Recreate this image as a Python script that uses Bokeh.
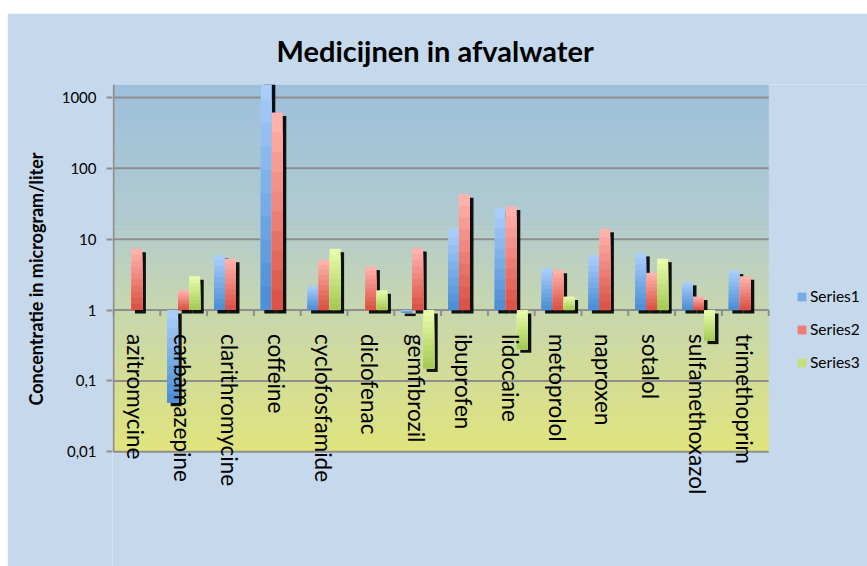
import math
import numpy as np
from bokeh.plotting import figure
from bokeh.core.properties import value
from bokeh.models import (ColumnDataSource, Range1d, FixedTicker, CustomJSTickFormatter,
                          Legend, LegendItem, BoxAnnotation, LabelSet, Title)
from bokeh.embed import file_html
from bokeh.resources import INLINE

# ---------------- data ----------------
categories = ["azitromycine", "carbamazepine", "clarithromycine", "coffeine", "cyclofosfamide",
              "diclofenac", "gemfibrozil", "ibuprofen", "lidocaine", "metoprolol", "naproxen",
              "sotalol", "sulfamethoxazol", "trimethoprim"]
series1 = [None, 0.049, 6.0, 2000, 2.2, None, 0.92, 14, 27.5, 3.9, 6.0, 6.4, 2.5, 3.6]
series2 = [7.3, 1.9, 5.3, 615, 5.1, 4.1, 7.5, 43, 29, 3.7, 14, 3.35, 1.55, 3.0]
series3 = [None, 3.0, None, None, 7.3, 1.9, 0.15, None, 0.28, 1.55, None, 5.3, 0.37, None]
series_names = ["Series1", "Series2", "Series3"]
y_ticks = [0.01, 0.1, 1, 10, 100, 1000]
y_tick_labels = ["0,01", "0,1", "1", "10", "100", "1000"]

# ---------------- style / layout ----------------
FONT = "Lato"
BG = "#c6d9ec"
GRID = "#8e8e8e"
series_colors = [("#a9cdf9", "#4e8fd5"), ("#ffb1ab", "#db5447"), ("#e7fbab", "#a8cb57")]
Y_MAX = 1525
DEC_PX = 71.0          # pixels per decade
CAT_PX = 46.8          # pixels per category
FIG_W, FIG_H = 860, 553
BORDER_L, BORDER_T = 105, 70
FRAME_W = FIG_W - BORDER_L
FRAME_H = FIG_H - BORDER_T
ONE_PX = 309 - 83      # pixel distance of y=1 below frame top
BAR_W = 0.235
SH_DX = 3.5 / CAT_PX
SH_DEC = 3.5 / DEC_PX
N_LAYERS = 10


def hex2rgb(h):
    h = h.lstrip("#")
    return tuple(int(h[i:i + 2], 16) for i in (0, 2, 4))


def lerp(c1, c2, t):
    a, b = hex2rgb(c1), hex2rgb(c2)
    return "#%02x%02x%02x" % tuple(int(round(a[i] + (b[i] - a[i]) * t)) for i in range(3))


n = len(categories)
x_start = -1.0 / CAT_PX
y_low = 10 ** (-(FRAME_H - ONE_PX) / DEC_PX)

p = figure(x_range=Range1d(x_start, x_start + FRAME_W / CAT_PX),
           y_axis_type="log", y_range=Range1d(y_low, Y_MAX),
           width=FIG_W, height=FIG_H, output_backend="svg", toolbar_location=None,
           x_axis_location=None, min_border_left=BORDER_L, min_border_right=0,
           min_border_top=BORDER_T, min_border_bottom=0, margin=(13, 0, 0, 7))
p.border_fill_color = BG
p.background_fill_color = BG
p.outline_line_color = None
p.xgrid.grid_line_color = None
p.ygrid.grid_line_color = None

# plot-area gradient background (blue top -> yellow bottom)
stops = [(0.0, "#9dbfdb"), (0.35, "#afcad0"), (0.6, "#c7d6b0"), (1.0, "#e1e47a")]
lo_l, hi_l = math.log10(y_ticks[0]), math.log10(Y_MAX)
NB = 60
for i in range(NB):
    t = (i + 0.5) / NB
    for j in range(len(stops) - 1):
        if stops[j][0] <= t <= stops[j + 1][0]:
            tt = (t - stops[j][0]) / (stops[j + 1][0] - stops[j][0])
            col = lerp(stops[j][1], stops[j + 1][1], tt)
            break
    top = 10 ** (hi_l - (hi_l - lo_l) * i / NB)
    bot = 10 ** (hi_l - (hi_l - lo_l) * (i + 1) / NB)
    p.add_layout(BoxAnnotation(left=0, right=n, bottom=bot, top=top, fill_color=col,
                               fill_alpha=1, line_color=col, line_width=1, level="image"))

# title
p.title.text = "Medicijnen in afvalwater"
p.title.align = "left"
p.title.offset = 164
p.title.text_font = FONT
p.title.text_font_size = "29px"
p.title.text_font_style = "bold"
p.title.text_color = "black"
p.title.standoff = 34
p.title.text_line_height = 0.9

# y axis
p.yaxis.ticker = FixedTicker(ticks=y_ticks)
p.yaxis.formatter = CustomJSTickFormatter(args=dict(tv=y_ticks, lb=y_tick_labels), code="""
for (let i = 0; i < tv.length; i++) {
  if (Math.abs(Math.log10(tick) - Math.log10(tv[i])) < 1e-6) return lb[i];
}
return "";
""")
p.yaxis.major_label_text_font = FONT
p.yaxis.major_label_text_font_size = "15px"
p.yaxis.major_label_text_color = "black"
p.yaxis.major_label_standoff = 10
p.yaxis.major_tick_out = 6
p.yaxis.major_tick_in = 0
p.yaxis.minor_tick_line_color = None
p.yaxis.axis_line_color = None
p.yaxis.major_tick_line_color = GRID
p.yaxis.major_tick_line_width = 2

p.add_layout(Title(text="Concentratie in microgram/liter", align="left", offset=161,
                   text_font=FONT, text_font_size="18px", text_font_style="bold",
                   text_color="black", standoff=24), "left")

# gridlines (only across the category area) and the left axis line
grid_src = ColumnDataSource(dict(y=y_ticks, x0=[0] * len(y_ticks), x1=[n] * len(y_ticks)))
p.segment(x0="x0", x1="x1", y0="y", y1="y", source=grid_src, line_color=GRID, line_width=2)
p.segment(x0=[0], x1=[0], y0=[y_ticks[0]], y1=[Y_MAX], line_color=GRID, line_width=2)

# category boundary ticks below the 1-line
bounds = list(range(n + 1))
tick_src = ColumnDataSource(dict(x=bounds, y0=[1] * len(bounds),
                                 y1=[10 ** (-6 / DEC_PX)] * len(bounds)))
p.segment(x0="x", x1="x", y0="y0", y1="y1", source=tick_src, line_color=GRID, line_width=2)

# bars (gradient built from stacked layers) with drop shadows
centers = np.arange(n) + 0.5
legend_items = []
for si, vals in enumerate([series1, series2, series3]):
    lv = np.log10(np.array(vals, dtype=float))
    lo = np.minimum(0, lv)
    hi = np.maximum(0, lv)
    xs = centers + (si - 1) * BAR_W
    sh = ColumnDataSource(dict(x=xs + SH_DX, top=10 ** (hi - SH_DEC), bottom=10 ** (lo - SH_DEC)))
    p.vbar(x="x", top="top", bottom="bottom", width=BAR_W, source=sh,
           fill_color="black", fill_alpha=0.92, line_color=None)
    c_top, c_bot = series_colors[si]
    leg_r = None
    for k in range(N_LAYERS):
        f = 1 - k / N_LAYERS
        t = k / (N_LAYERS - 1)
        src = ColumnDataSource(dict(x=xs, top=10 ** (lo + (hi - lo) * f), bottom=10 ** lo))
        r = p.vbar(x="x", top="top", bottom="bottom", width=BAR_W, source=src,
                   fill_color=lerp(c_top, c_bot, t), line_color=None)
        if k == N_LAYERS // 2:
            leg_r = r
    legend_items.append(LegendItem(label=series_names[si], renderers=[leg_r]))

# category labels, rotated, below the 1-line
lab_src = ColumnDataSource(dict(x=list(centers), y=[1] * n, text=categories))
p.add_layout(LabelSet(x="x", y="y", text="text", source=lab_src, angle=-math.pi / 2,
                      text_align="left", text_baseline="middle", y_offset=-24, x_offset=-1,
                      text_font=value(FONT), text_font_size=value("22.5px"),
                      text_color="black"))

legend = Legend(items=legend_items, location=(684, 194), orientation="vertical",
                background_fill_alpha=0, border_line_color=None, padding=0, margin=0,
                spacing=13, label_height=20, glyph_width=11, glyph_height=11,
                label_standoff=3, label_text_font=FONT, label_text_font_size="15.5px",
                label_text_color="black")
p.add_layout(legend, "center")

open("out.html", "w").write(file_html(p, INLINE))
